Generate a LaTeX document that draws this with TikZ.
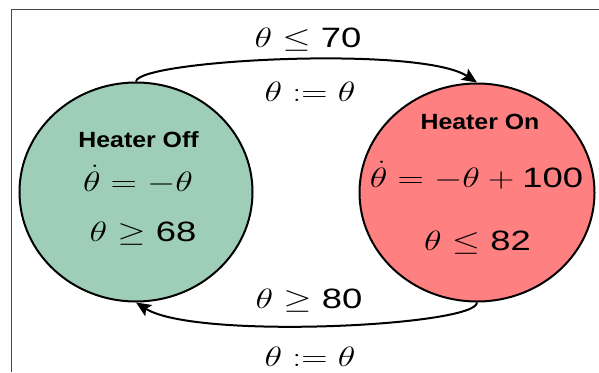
\RequirePackage{fix-cm}
\documentclass[tikz,border=0pt]{standalone}
\usepackage{fontspec}
\setsansfont{Liberation Sans}
\usepackage{graphicx}
\usetikzlibrary{shapes.geometric,arrows.meta}
\definecolor{offgreen}{RGB}{158,206,184}
\definecolor{onred}{RGB}{255,128,128}
\definecolor{framegray}{RGB}{70,70,70}
\newcommand{\mx}[1]{\scalebox{1.3}[1]{$#1$}}
\newcommand{\hx}[1]{\scalebox{1.13}[1]{\sffamily\bfseries #1}}
\begin{document}
\begin{tikzpicture}[x=1pt,y=-1pt,
  hstate/.style={ellipse,draw=black,line width=2pt,inner sep=0pt},
  mathlbl/.style={anchor=base,inner sep=0pt,font=\fontsize{28}{30}\selectfont},
  stitle/.style={anchor=base,inner sep=0pt,font=\fontsize{22}{24}\selectfont},
  trans/.style={draw=black,line width=2pt,-{Stealth[length=15pt,width=13pt,inset=3pt]}},
  framel/.style={draw=framegray,line width=0.8pt}]
\useasboundingbox (0,0) rectangle (599,372);
% partial frame
\coordinate (fr) at (599,9);
\coordinate (fc) at (11,9);
\coordinate (fb) at (11,372);
\draw[framel] (fr) -- (fc) -- (fb);
% states
\node[hstate,fill=offgreen,minimum width=233pt,minimum height=219pt] (off) at (136,192) {};
\node[hstate,fill=onred,minimum width=235pt,minimum height=218pt] (on) at (477,192.5) {};
% state texts
\node[stitle] (offt) at (138.5,147) {\hx{Heater Off}};
\node[mathlbl] (offf) at (138,191) {\mx{\dot\theta = -\theta}};
\node[mathlbl] (offi) at (143,241.5) {\mx{\theta \geq \mathsf{68}}};
\node[stitle] (ont) at (480,129.5) {\hx{Heater On}};
\node[mathlbl] (onf) at (476.5,187) {\mx{\dot\theta = -\theta + \mathsf{100}}};
\node[mathlbl] (oni) at (477.5,250) {\mx{\theta \leq \mathsf{82}}};
% transitions
\draw[trans] (off.north) .. controls (138,60) and (420,45) .. (on.north);
\draw[trans] (on.south) .. controls (477,326) and (195,340) .. (off.south);
% transition labels
\node[mathlbl] (g1) at (308,47) {\mx{\theta \leq \mathsf{70}}};
\node[mathlbl] (r1) at (310,101.5) {\mx{\theta := \theta}};
\node[mathlbl] (g2) at (309,308) {\mx{\theta \geq \mathsf{80}}};
\node[mathlbl] (r2) at (310,366) {\mx{\theta := \theta}};
\end{tikzpicture}
\end{document}
